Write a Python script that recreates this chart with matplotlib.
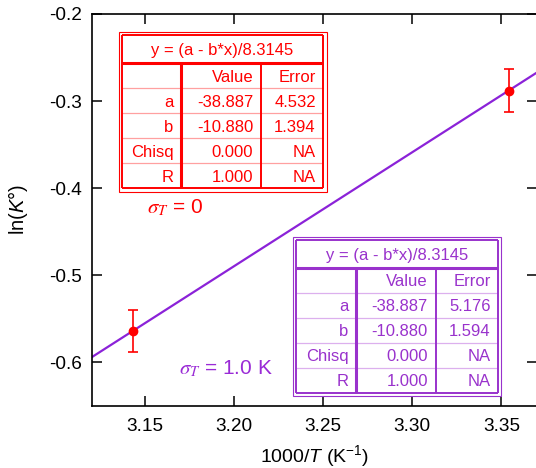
import numpy as np
import matplotlib
matplotlib.use('Agg')
import matplotlib.pyplot as plt
from matplotlib.patches import Rectangle
from matplotlib.lines import Line2D

plt.rcParams['font.family'] = ['Liberation Sans', 'DejaVu Sans']
plt.rcParams['mathtext.fontset'] = 'custom'
plt.rcParams['mathtext.rm'] = 'Liberation Sans'
plt.rcParams['mathtext.it'] = 'Liberation Sans:italic'

# data
inv_T = [3.143, 3.354]
lnK = [-0.564, -0.288]
lnK_err = [0.024, 0.025]
fit_a = -38.887
fit_b = -10.880
R_gas = 8.3145

row_names = ['a', 'b', 'Chisq', 'R']
values_0 = ['-38.887', '-10.880', '0.000', '1.000']
errors_0 = ['4.532', '1.394', 'NA', 'NA']
values_1 = ['-38.887', '-10.880', '0.000', '1.000']
errors_1 = ['5.176', '1.594', 'NA', 'NA']
x_ticks = [3.15, 3.20, 3.25, 3.30, 3.35]
y_ticks = [-0.6, -0.5, -0.4, -0.3, -0.2]

W, H = 536, 468
fig = plt.figure(figsize=(W / 100, H / 100), dpi=100)
ax = fig.add_axes([91.7 / W, 1 - 405.7 / H, (537 - 91.7) / W, (405.7 - 14) / H])

x_fit = np.array([3.12, 3.37])
ax.plot(x_fit, (fit_a - fit_b * x_fit) / R_gas, color='#8b22d8', lw=1.6, zorder=2)
ax.errorbar(inv_T, lnK, yerr=lnK_err, fmt='o', color='#ff0000', ms=6,
            elinewidth=1.2, capsize=3.5, capthick=1.2, zorder=3)

ax.set_xlim(3.12, 3.37)
ax.set_ylim(-0.65, -0.2)
ax.set_xticks(x_ticks)
ax.set_xticklabels(['%.2f' % t for t in x_ticks])
ax.set_yticks(y_ticks)
ax.set_yticklabels(['%.1f' % t for t in y_ticks])
ax.tick_params(direction='in', length=7, width=1.1, labelsize=13.7,
               top=True, right=True, pad=7)
ax.tick_params(axis='x', pad=9)
for s in ax.spines.values():
    s.set_linewidth(1.2)
ax.set_xlabel('1000/$T$ (K$^{-1}$)', fontsize=14, labelpad=6)
ax.set_ylabel('ln($K$°)', fontsize=14.5, labelpad=14)


def px(x, y):
    return (x / W, 1 - y / H)


def hline(x0, x1, y, color, lw):
    (a, b), (c, d) = px(x0, y), px(x1, y)
    fig.add_artist(Line2D([a, c], [b, d], color=color, lw=lw, zorder=6,
                          transform=fig.transFigure, solid_capstyle='butt'))


def vline(x, y0, y1, color, lw):
    (a, b), (c, d) = px(x, y0), px(x, y1)
    fig.add_artist(Line2D([a, c], [b, d], color=color, lw=lw, zorder=6,
                          transform=fig.transFigure, solid_capstyle='butt'))


def draw_table(left, top, color, light, values, errors):
    w_out, h_out = 208, 159.5
    fig.add_artist(Rectangle(px(left, top + h_out), w_out / W, h_out / H,
                             transform=fig.transFigure, facecolor='white',
                             edgecolor=color, lw=0.8, zorder=5))
    il, it = left + 3.2, top + 3.2
    iw, ih = w_out - 6.4, h_out - 6.4
    ir, ib = il + iw, it + ih
    title_h = 28
    row_h = (ih - title_h) / 5
    cols = [il, il + 59.3, il + 139, ir]
    # light row lines
    for k in range(1, 5):
        y = it + title_h + k * row_h
        hline(il, ir, y, light, 0.9)
    # column lines
    vline(cols[1], it + title_h, ib, color, 2.2)
    vline(cols[2], it + title_h, ib, color, 1.4)
    hline(il, ir, it + title_h, color, 2.2)
    # inner border
    hline(il, ir, it, color, 1.4)
    hline(il, ir, ib, color, 1.4)
    vline(il, it, ib, color, 1.4)
    vline(ir, it, ib, color, 1.4)

    fs = 12
    fig.text(*px((il + ir) / 2, it + title_h / 2 + 6), 'y = (a - b*x)/8.3145',
             ha='center', va='baseline', color=color, fontsize=fs, zorder=7)
    rows = [('', 'Value', 'Error')] + list(zip(row_names, values, errors))
    for k, row in enumerate(rows):
        yb = it + title_h + (k + 0.5) * row_h + 6
        for j, txt in enumerate(row):
            fig.text(*px(cols[j + 1] - 7.5, yb), txt, ha='right', va='baseline',
                     color=color, fontsize=fs, zorder=7)


draw_table(118.5, 32, '#ff0000', '#ffa0a0', values_0, errors_0)
draw_table(293.3, 236.7, '#9932cc', '#dcb0ee', values_1, errors_1)

fig.text(*px(146.7, 213), r'$\sigma_T$ = 0', color='#ff0000', fontsize=15,
         ha='left', va='baseline', math_fontfamily='stix')
fig.text(*px(179, 374.3), r'$\sigma_T$ = 1.0 K', color='#9a2bd6', fontsize=15,
         ha='left', va='baseline', math_fontfamily='stix')

fig.savefig('out.png', dpi=100)
